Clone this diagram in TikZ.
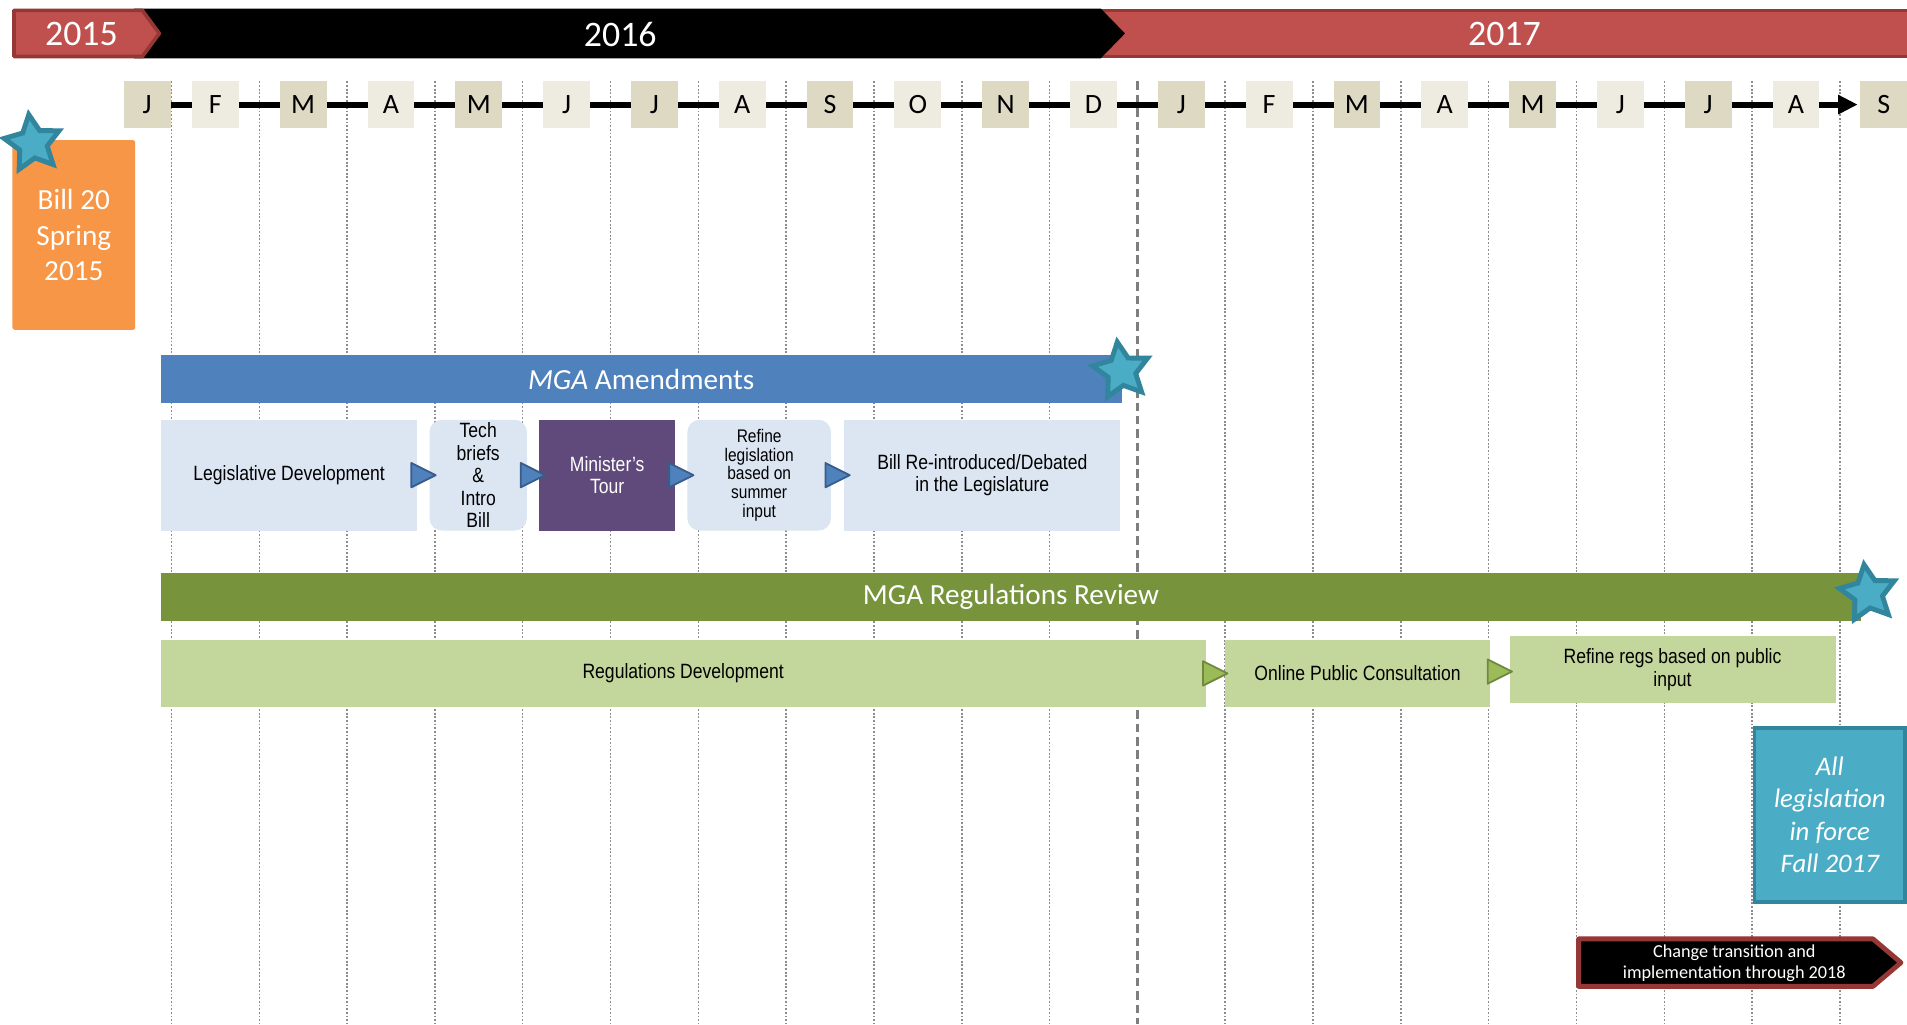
\documentclass[tikz,border=0pt]{standalone}
\usepackage{fontspec}
\setmainfont{Carlito}
\newfontfamily\arialn[FakeStretch=0.85]{Liberation Sans}
\usetikzlibrary{shapes.geometric,arrows.meta,calc,positioning,backgrounds}
\definecolor{yearred}{HTML}{C0504D}
\definecolor{yearedge}{HTML}{953735}
\definecolor{monthdark}{HTML}{DDD9C3}
\definecolor{monthlight}{HTML}{EEECE1}
\definecolor{billorange}{HTML}{F79646}
\definecolor{starteal}{HTML}{4BACC6}
\definecolor{staredge}{HTML}{31859C}
\definecolor{amendblue}{HTML}{4F81BD}
\definecolor{amendedge}{HTML}{385D8A}
\definecolor{amendlight}{HTML}{DCE6F2}
\definecolor{tourpurple}{HTML}{604A7B}
\definecolor{regsgreen}{HTML}{77933C}
\definecolor{regslight}{HTML}{C3D69B}
\definecolor{regsarrow}{HTML}{9BBB59}
\definecolor{regsedge}{HTML}{71893F}
\definecolor{gridgray}{HTML}{8C8C8C}
\tikzset{
  yeartext/.style={text=white, font=\fontsize{29.5}{30}\selectfont},
  monthbox/.style={minimum width=38.5pt, minimum height=38pt, inner sep=0pt, font=\fontsize{23}{23}\selectfont},
  milestar/.style={star, star points=5, star point ratio=2, fill=starteal, draw=staredge, line width=4, minimum size=48pt, inner sep=0pt, rotate=8},
  phasebar/.style={anchor=north west, minimum height=39pt, inner sep=0pt, text=white, font=\fontsize{24}{26}\selectfont},
  stepbox/.style={anchor=north west, inner sep=2pt, align=center, font=\arialn\fontsize{17}{18.5}\selectfont},
  amendbox/.style={stepbox, fill=amendlight, minimum height=91pt},
  regsbox/.style={stepbox, fill=regslight, minimum height=55pt},
  gridline/.style={draw=gridgray, line width=1.2, dash pattern=on 1.5pt off 1.5pt},
  halfline/.style={draw=gridgray!90!black, line width=2, dash pattern=on 7pt off 4pt},
  bluetri/.style={fill=amendblue, draw=amendedge, line width=1.5, line join=round},
  greentri/.style={fill=regsarrow, draw=regsedge, line width=1.5, line join=round}
}
\begin{document}
\begin{tikzpicture}[x=1pt,y=-1pt]
\useasboundingbox (0,0) rectangle (1568,842);
\clip (0,0) rectangle (1568,842);
\newcommand{\connarrow}[2]{\filldraw[#1] (#2) ++(-10,-10) -- ++(20,10) -- ++(-20,10) -- cycle;}

% years
\filldraw[fill=yearred, draw=yearedge, line width=3] (905,8.5) rectangle (1590,46.5);
\node[yeartext] (y2017) at (1237,28) {2017};
\fill[black] (110,7) -- (905,7) -- (925,27.5) -- (905,48) -- (110,48) -- cycle;
\node[yeartext] (y2016) at (510,28) {2016};
\filldraw[fill=yearred, draw=yearedge, line width=3, line join=round] (11.5,8.5) -- (117,8.5) -- (131,27.5) -- (117,46.5) -- (11.5,46.5) -- cycle;
\node[yeartext] (y2015) at (67,28) {2015};

% months
\foreach \mon [count=\i from 0] in {J,F,M,A,M,J,J,A,S,O,N,D,J,F,M,A,M,J,J,A,S}{
  \pgfmathsetmacro{\mx}{ifthenelse(\i==0,121,177.1+72.2*(\i-1))}
  \pgfmathtruncatemacro{\odd}{mod(\i,2)}
  \ifnum\odd=0 \def\mcol{monthdark}\else\def\mcol{monthlight}\fi
  \node[monthbox, fill=\mcol] (m\i) at (\mx,86) {\mon};
}

\begin{scope}[on background layer]
\fill[white] (0,0) rectangle (1568,842);
\foreach \k in {0,...,19}{
  \pgfmathsetmacro{\gx}{141+72.2*\k}
  \ifnum\k=11 \draw[halfline] (\gx,67) -- (\gx,842);
  \else \draw[gridline] (\gx,67) -- (\gx,842); \fi
}
\draw[line width=5, -{Triangle[length=16pt,width=15pt]}, shorten >=2pt] (m0.east) -- (m20.west);
\end{scope}

% Bill 20
\node[fill=billorange, rounded corners=2, minimum width=101pt, minimum height=156pt, anchor=north west, text=white, align=center, font=\fontsize{24}{29}\selectfont] (bill) at (10,115) {Bill 20\\Spring\\2015};
\node[milestar] (star1) at (27,118) {};

% MGA amendments
\node[phasebar, fill=amendblue, minimum width=790pt] (amend) at (132,292) {\textit{MGA} Amendments};
\node[milestar] (star2) at (922,305) {};
\node[amendbox, minimum width=211pt] (legdev) at (132,345) {Legislative Development};
\node[amendbox, minimum width=80pt, rounded corners=10] (techbrief) at (353,345) {Tech\\briefs\\\&\\Intro\\Bill};
\node[amendbox, fill=tourpurple, text=white, minimum width=112pt] (tour) at (443,345) {Minister’s\\Tour};
\node[amendbox, minimum width=118pt, rounded corners=10, font=\arialn\fontsize{15}{15.5}\selectfont] (refineleg) at (565,345) {Refine\\legislation\\based on\\summer\\input};
\node[amendbox, minimum width=227pt] (reintro) at (694,345) {Bill Re-introduced/Debated\\in the Legislature};
\connarrow{bluetri}{$(legdev.east)!0.5!(techbrief.west)$}
\connarrow{bluetri}{$(techbrief.east)!0.5!(tour.west)$}
\connarrow{bluetri}{$(tour.east)!0.5!(refineleg.west)$}
\connarrow{bluetri}{$(refineleg.east)!0.5!(reintro.west)$}

% MGA regulations
\node[phasebar, fill=regsgreen, minimum width=1398pt] (regs) at (132,471) {MGA Regulations Review};
\node[milestar] (star3) at (1536,488) {};
\node[regsbox, minimum width=859pt] (regdev) at (132,526) {Regulations Development};
\node[regsbox, minimum width=218pt] (consult) at (1007,526) {Online Public Consultation};
\node[regsbox, minimum width=268pt] (refineregs) at (1241,523) {Refine regs based on public\\input};
\connarrow{greentri}{$(regdev.east)!0.5!(consult.west)$}
\connarrow{greentri}{$(consult.east)!0.5!(refineregs.west)$}

% in force
\node[fill=starteal, draw=staredge, line width=3, minimum width=124pt, minimum height=143pt, anchor=north west, text=white, align=center, font=\itshape\fontsize{22}{26.5}\selectfont] (inforce) at (1441,597) {All\\legislation\\in force\\Fall 2017};

% transition
\filldraw[fill=black, draw=yearedge, line width=4, line join=round] (1298,772) -- (1540,772) -- (1563,791.5) -- (1540,811) -- (1298,811) -- cycle;
\node[text=white, align=center, font=\fontsize{15}{18}\selectfont] (trans) at (1426,792) {Change transition and\\implementation through 2018};
\end{tikzpicture}
\end{document}
